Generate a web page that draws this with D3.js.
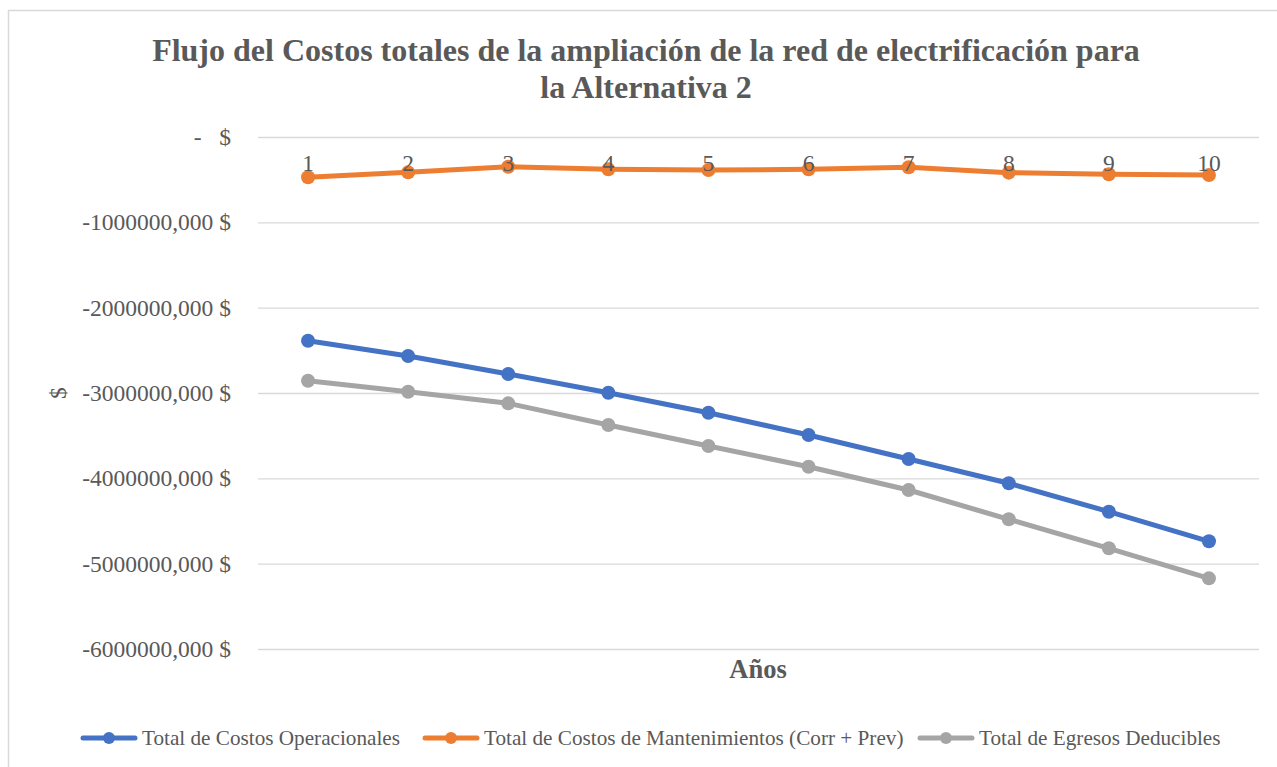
<!DOCTYPE html>
<html><head><meta charset="utf-8">
<script src="https://cdn.jsdelivr.net/npm/d3@7"></script>
<style>body{margin:0;background:#fff}svg{display:block}</style>
</head><body><svg id="c" width="1277" height="767"></svg>
<script>
const years = [1,2,3,4,5,6,7,8,9,10];
const seriesNames = ["Total de Costos Operacionales","Total de Costos de Mantenimientos (Corr + Prev)","Total de Egresos Deducibles"];
const operacionales = [-2387000,-2566000,-2777000,-2997000,-3231000,-3492000,-3774000,-4058000,-4391000,-4738000];
const mantenimientos = [-472000,-414000,-348000,-379000,-387000,-379000,-355000,-418000,-437000,-445000];
const egresos = [-2856000,-2985000,-3121000,-3375000,-3621000,-3864000,-4137000,-4480000,-4820000,-5172000];
const yTicks = [0,-1000000,-2000000,-3000000,-4000000,-5000000,-6000000];
const colors = ["#4472c4","#ed7d31","#a5a5a5"];
const titleLines = ["Flujo del Costos totales de la ampliación de la red de electrificación para","la Alternativa 2"];

const FONT = "'Liberation Serif','Times New Roman',serif";
const svg = d3.select("#c");
svg.append("rect").attr("x",8.5).attr("y",10.5).attr("width",1300).attr("height",800).attr("fill","#fff").attr("stroke","#d9d9d9").attr("stroke-width",1.5);

const L=258,R=1259,T=137,B=649;
const x = d3.scaleBand().domain(years).range([L,R]);
const y = d3.scaleLinear().domain([-6000000,0]).range([B,T]);

const tickFmt = d => d===0 ? "-   $" : (String(d)+",000 $");
const ga = svg.append("g").attr("transform",`translate(${L},0)`)
  .call(d3.axisLeft(y).tickValues(yTicks).tickSize(-(R-L)).tickPadding(27).tickFormat(tickFmt));
ga.select(".domain").remove();
ga.selectAll(".tick line").attr("stroke","#d9d9d9").attr("stroke-width",1.3);
ga.selectAll(".tick text").attr("fill","#595959").style("font-family",FONT).style("font-size","23.5px").style("white-space","pre");

const gx = svg.append("g").attr("transform",`translate(0,${y(0)})`).call(d3.axisBottom(x).tickSize(0).tickPadding(17));
gx.select(".domain").remove();
gx.selectAll(".tick text").attr("fill","#595959").style("font-family",FONT).style("font-size","23.5px");

const all = [operacionales,mantenimientos,egresos];
const line = d3.line().x((d,i)=>x(years[i])+x.bandwidth()/2).y(d=>y(d));
all.forEach((s,k)=>{
  svg.append("path").datum(s).attr("d",line).attr("fill","none").attr("stroke",colors[k]).attr("stroke-width",5).attr("stroke-linejoin","round").attr("stroke-linecap","round");
  svg.append("g").selectAll("circle").data(s).join("circle")
    .attr("cx",(d,i)=>x(years[i])+x.bandwidth()/2).attr("cy",d=>y(d)).attr("r",7).attr("fill",colors[k]);
});
gx.raise();

const t = svg.append("text").attr("text-anchor","middle").attr("fill","#595959")
  .style("font-family",FONT).style("font-size","32px").style("font-weight","bold");
titleLines.forEach((l,i)=> t.append("tspan").attr("x",646).attr("y",61+i*37).text(l));

svg.append("text").attr("x",758).attr("y",678).attr("text-anchor","middle").attr("fill","#595959")
  .style("font-family",FONT).style("font-size","26.5px").style("font-weight","bold").text("Años");
svg.append("text").attr("transform","translate(66,393) rotate(-90)").attr("text-anchor","middle").attr("fill","#595959")
  .style("font-family",FONT).style("font-size","23.5px").text("$");

const legX=[83,425,920];
seriesNames.forEach((n,k)=>{
  const g = svg.append("g").attr("transform",`translate(${legX[k]},738)`);
  g.append("line").attr("x1",0).attr("x2",52).attr("stroke",colors[k]).attr("stroke-width",5).attr("stroke-linecap","round");
  g.append("circle").attr("cx",26).attr("r",6).attr("fill",colors[k]);
  g.append("text").attr("x",59).attr("y",7).attr("fill","#595959")
   .style("font-family",FONT).style("font-size","21.2px").text(n);
});
</script></body></html>
